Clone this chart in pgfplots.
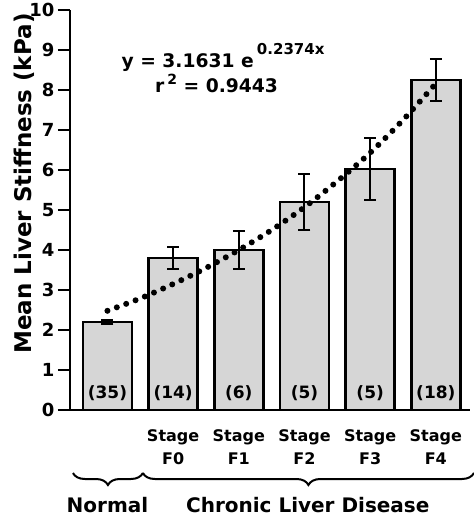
\documentclass[border=0pt]{standalone}
\usepackage{fontspec}
\setmainfont{DejaVu Sans}
\usepackage{pgfplots}
\pgfplotsset{compat=1.18}
\usetikzlibrary{decorations.pathreplacing}
\definecolor{barfill}{HTML}{D6D6D6}
\begin{document}
\begin{tikzpicture}
\begin{axis}[
  at={(0,0)}, anchor=south west,
  scale only axis, width=400pt, height=400pt,
  xmin=-0.57, xmax=5.52, ymin=0, ymax=10,
  axis x line=bottom, axis y line=left,
  axis line style={line width=1.5pt,-},
  ytick={0,1,...,10},
  tick align=outside,
  major tick length=12pt,
  ytick style={line width=1.5pt, black},
  xtick={0,1,2,3,4,5},
  xticklabels={,Stage\\F0,Stage\\F1,Stage\\F2,Stage\\F3,Stage\\F4},
  xtick style={draw=none},
  xticklabel style={align=center, font=\bfseries\fontsize{16}{23}\selectfont, yshift=-4pt},
  yticklabel style={font=\bfseries\fontsize{18}{18}\selectfont},
  /pgf/number format/assume math mode=true,
  ylabel={Mean Liver Stiffness (kPa)},
  ylabel style={at={(axis description cs:0,0.566)}, anchor=base, yshift=38pt, inner sep=0pt, font=\bfseries\fontsize{23}{23}\selectfont},
  clip=false,
]
\addplot[ybar, bar width=49pt, bar shift=0pt, fill=barfill, draw=black, line width=2.5pt,
  error bars/.cd, y dir=both, y explicit,
  error bar style={line width=2pt, black},
  error mark options={line width=2pt, mark size=6pt, rotate=90}]
coordinates {
  (0,2.2) +- (0,0.04)
  (1,3.8) +- (0,0.28)
  (2,4.0) +- (0,0.48)
  (3,5.2) +- (0,0.69)
  (4,6.02) +- (0,0.77)
  (5,8.25) +- (0,0.53)
};
\addplot[black, line width=6pt, line cap=round, dash pattern=on 0pt off 10pt, smooth]
coordinates {
  (0,2.48) (0.5,2.79) (1,3.15) (1.5,3.55) (2,4.0) (2.5,4.5) (3,5.07) (3.5,5.72) (4,6.43) (4.5,7.25) (5,8.16)
};
\node[anchor=base, font=\bfseries\fontsize{18.7}{19}\selectfont] at (axis cs:1.76,8.55) {y = 3.1631 e\,\raisebox{13pt}{\fontsize{15}{15}\selectfont 0.2374x}};
\node[anchor=base, font=\bfseries\fontsize{18.7}{19}\selectfont] at (axis cs:1.66,7.93) {r\,\raisebox{8pt}{\fontsize{14}{14}\selectfont 2} = 0.9443};
\node[anchor=base, font=\bfseries\fontsize{17}{17}\selectfont] at (axis cs:0,0.28) {(35)};
\node[anchor=base, font=\bfseries\fontsize{17}{17}\selectfont] at (axis cs:1,0.28) {(14)};
\node[anchor=base, font=\bfseries\fontsize{17}{17}\selectfont] at (axis cs:2,0.28) {(6)};
\node[anchor=base, font=\bfseries\fontsize{17}{17}\selectfont] at (axis cs:3,0.28) {(5)};
\node[anchor=base, font=\bfseries\fontsize{17}{17}\selectfont] at (axis cs:4,0.28) {(5)};
\node[anchor=base, font=\bfseries\fontsize{17}{17}\selectfont] at (axis cs:5,0.28) {(18)};
\draw[decorate, decoration={brace, mirror, amplitude=12pt}, line width=2pt] (axis cs:-0.525,-1.575) -- (axis cs:0.54,-1.575);
\draw[decorate, decoration={brace, mirror, amplitude=12pt}, line width=2pt] (axis cs:0.54,-1.575) -- (axis cs:5.58,-1.575);
\node[anchor=base, inner sep=1pt, font=\bfseries\fontsize{20}{20}\selectfont] at (axis cs:0,-2.56) {Normal};
\node[anchor=base, inner sep=1pt, font=\bfseries\fontsize{20}{20}\selectfont] at (axis cs:3.05,-2.56) {Chronic Liver Disease};
\end{axis}
\pgfresetboundingbox
\path[use as bounding box] (-70pt,-107pt) rectangle (404pt,410pt);
\end{tikzpicture}
\end{document}
